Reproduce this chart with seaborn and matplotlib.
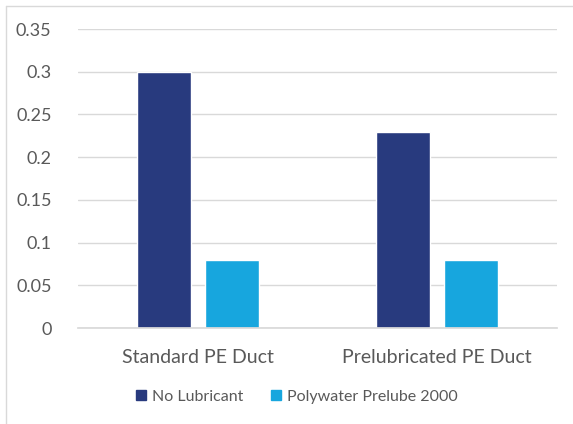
import matplotlib
matplotlib.use("Agg")
import matplotlib.pyplot as plt
import pandas as pd
import seaborn as sns
from matplotlib.lines import Line2D

categories = ["Standard PE Duct", "Prelubricated PE Duct"]
series = ["No Lubricant", "Polywater Prelube 2000"]
no_lubricant = [0.30, 0.23]
prelube_2000 = [0.08, 0.08]
y_ticks = [0, 0.05, 0.1, 0.15, 0.2, 0.25, 0.3, 0.35]
y_labels = ["0", "0.05", "0.1", "0.15", "0.2", "0.25", "0.3", "0.35"]

COLORS = ["#283A7E", "#17A6DE"]
TEXT = "#595959"
GRID = "#D9D9D9"

df = pd.DataFrame({
    "category": categories * 2,
    "series": [series[0]] * 2 + [series[1]] * 2,
    "value": no_lubricant + prelube_2000,
})

sns.set_theme(style="white")
plt.rcParams["font.family"] = ["Lato", "DejaVu Sans"]

fig = plt.figure(figsize=(5.73, 4.24), dpi=100)
ax = fig.add_axes([0.136, 0.2264, 0.836, 0.7052])

sns.barplot(data=df, x="category", y="value", hue="series", order=categories,
            hue_order=series, palette=COLORS, width=0.57, gap=0.21,
            saturation=1, ax=ax, legend=False)

ax.set_ylim(0, 0.35)
ax.set_xlim(-0.5, 1.5)
ax.set_yticks(y_ticks)
ax.set_yticklabels(y_labels)
ax.yaxis.grid(True, color=GRID, linewidth=1)
ax.set_axisbelow(True)
for side in ["top", "right", "left"]:
    ax.spines[side].set_visible(False)
ax.spines["bottom"].set_color(GRID)
ax.tick_params(axis="y", length=0, pad=19, labelsize=13, labelcolor=TEXT)
ax.tick_params(axis="x", length=0, pad=15, labelsize=14, labelcolor=TEXT)
ax.set_xlabel("")
ax.set_ylabel("")

handles = [Line2D([0], [0], marker="s", linestyle="", markersize=7,
                  markerfacecolor=c, markeredgecolor=c) for c in COLORS]
fig.legend(handles, series, loc="center", bbox_to_anchor=(0.517, 0.064),
           ncol=2, frameon=False, fontsize=11.5, handlelength=0.8,
           handletextpad=0.3, columnspacing=1.6, labelcolor=TEXT)

# light border at top and left of the chart area
fig.add_artist(Line2D([6 / 573, 1], [1 - 6 / 424] * 2, color=GRID,
                      linewidth=1, transform=fig.transFigure))
fig.add_artist(Line2D([6 / 573] * 2, [0, 1 - 6 / 424], color=GRID,
                      linewidth=1, transform=fig.transFigure))

fig.savefig("out.png", dpi=100)
